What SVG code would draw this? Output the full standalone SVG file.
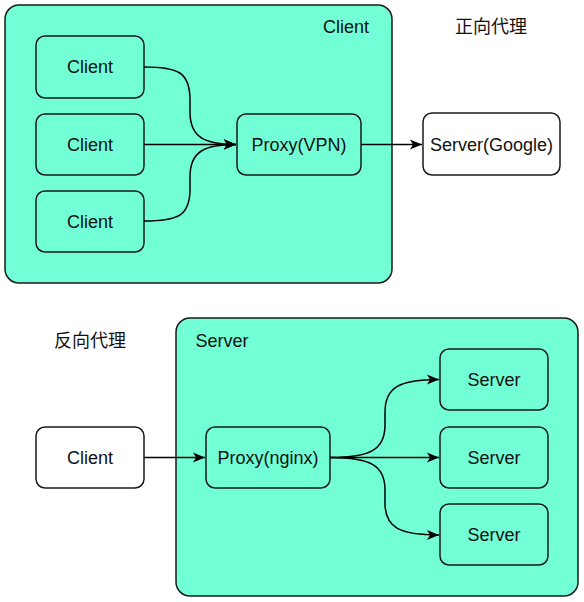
<svg xmlns="http://www.w3.org/2000/svg" width="584" height="602" viewBox="0 0 584 602">
<style>
.c{fill:#72FFD5;stroke:#1a1a1a;stroke-width:1.5}
.w{fill:#ffffff;stroke:#1a1a1a;stroke-width:1.5}
text{font-family:"Liberation Sans",Arial,"Noto Sans CJK SC",sans-serif;font-size:18px;fill:#111}
.m{text-anchor:middle}
.e{fill:none;stroke:#000;stroke-width:1.5}
</style>
<defs>
<marker id="a" markerWidth="13" markerHeight="13" viewBox="0 0 13 13" refX="12" refY="6.5" orient="auto" markerUnits="userSpaceOnUse">
<path d="M0,1.5 L12,6.5 L0,11.5 L3,6.5 Z" fill="#000"/>
</marker>
</defs>
<rect width="584" height="602" fill="#fff"/>
<g id="client-group">
<rect class="c" x="5" y="5" width="387" height="278" rx="14"/>
<text x="346" y="33" class="m">Client</text>
</g>
<g id="server-group">
<rect class="c" x="176" y="318" width="402" height="278" rx="14"/>
<text x="222" y="347" class="m">Server</text>
</g>
<g id="label-forward"><text x="491" y="33" class="m">正向代理</text></g>
<g id="label-reverse"><text x="90" y="347" class="m">反向代理</text></g>
<g id="client1"><rect class="c" x="36" y="36" width="108" height="62" rx="9"/><text x="90" y="73" class="m">Client</text></g>
<g id="client2"><rect class="c" x="36" y="114" width="108" height="61" rx="9"/><text x="90" y="151" class="m">Client</text></g>
<g id="client3"><rect class="c" x="36" y="191" width="108" height="61" rx="9"/><text x="90" y="228" class="m">Client</text></g>
<g id="proxy-vpn"><rect class="c" x="237" y="114" width="124" height="61" rx="9"/><text x="299" y="151" class="m">Proxy(VPN)</text></g>
<g id="server-google"><rect class="w" x="423" y="113" width="137" height="62" rx="9"/><text x="491.5" y="151" class="m">Server(Google)</text></g>
<g id="client-rev"><rect class="w" x="36" y="427" width="108" height="61" rx="9"/><text x="90" y="464" class="m">Client</text></g>
<g id="proxy-nginx"><rect class="c" x="206" y="427" width="124" height="61" rx="9"/><text x="268" y="464" class="m">Proxy(nginx)</text></g>
<g id="server1"><rect class="c" x="440" y="349" width="108" height="61" rx="9"/><text x="494" y="386" class="m">Server</text></g>
<g id="server2"><rect class="c" x="440" y="427" width="108" height="61" rx="9"/><text x="494" y="464" class="m">Server</text></g>
<g id="server3"><rect class="c" x="440" y="504" width="108" height="61" rx="9"/><text x="494" y="541" class="m">Server</text></g>
<g id="connectors">
<path class="e" d="M144,67 C178,67 190,72 190,100 L190,112 C190,138 205,144 236,144.5" marker-end="url(#a)"/>
<path class="e" d="M144,144.5 L236,144.5" marker-end="url(#a)"/>
<path class="e" d="M144,221 C178,221 190,216 190,189 L190,177 C190,151 205,144.5 236,144.5" marker-end="url(#a)"/>
<path class="e" d="M361,144.5 L422,144.5" marker-end="url(#a)"/>
<path class="e" d="M144,457.5 L205,457.5" marker-end="url(#a)"/>
<path class="e" d="M330,457.5 C370,457.5 385,450 385,425 L385,412 C385,387 400,379.5 439,379.5" marker-end="url(#a)"/>
<path class="e" d="M330,457.5 L439,457.5" marker-end="url(#a)"/>
<path class="e" d="M330,457.5 C370,457.5 385,465 385,490 L385,503 C385,528 400,535 439,535" marker-end="url(#a)"/>
</g>
</svg>
